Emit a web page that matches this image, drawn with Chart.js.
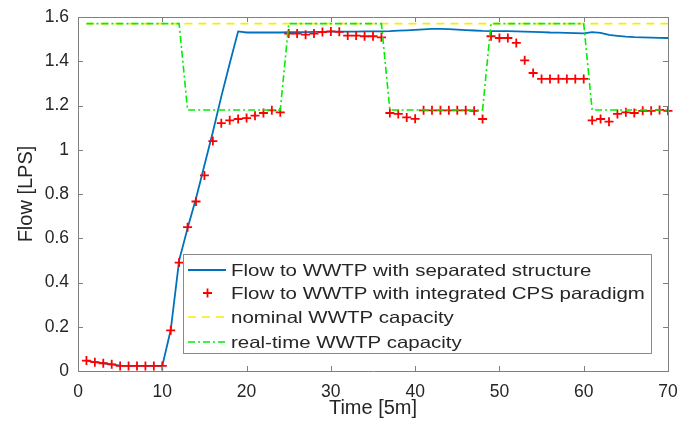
<!DOCTYPE html>
<html>
<head>
<meta charset="utf-8">
<script src="https://cdn.jsdelivr.net/npm/chart.js@4"></script>
<style>
  html, body { margin: 0; padding: 0; background: #fff; }
  #wrap { width: 679px; height: 427px; }
</style>
</head>
<body>
<div id="wrap"><canvas id="myChart" width="679" height="427"></canvas></div>
<script>
const time = [1, 2, 3, 4, 5, 6, 7, 8, 9, 10,
    11, 12, 13, 14, 15, 16, 17, 18, 19, 20,
    21, 22, 23, 24, 25, 26, 27, 28, 29, 30,
    31, 32, 33, 34, 35, 36, 37, 38, 39, 40,
    41, 42, 43, 44, 45, 46, 47, 48, 49, 50,
    51, 52, 53, 54, 55, 56, 57, 58, 59, 60,
    61, 62, 63, 64, 65, 66, 67, 68, 69, 70];

const separated = [0.047, 0.040, 0.035, 0.030, 0.024, 0.023, 0.023, 0.023, 0.023, 0.023,
    0.185, 0.50, 0.645, 0.78, 0.93, 1.08, 1.24, 1.39, 1.535, 1.530,
    1.530, 1.530, 1.530, 1.530, 1.531, 1.532, 1.532, 1.533, 1.533, 1.534,
    1.534, 1.534, 1.534, 1.535, 1.535, 1.535, 1.536, 1.538, 1.540, 1.542,
    1.544, 1.546, 1.546, 1.545, 1.543, 1.541, 1.539, 1.537, 1.536, 1.536,
    1.536, 1.535, 1.534, 1.533, 1.532, 1.530, 1.529, 1.528, 1.527, 1.526,
    1.532, 1.528, 1.519, 1.515, 1.511, 1.509, 1.508, 1.507, 1.506, 1.505];

const integrated = [0.047, 0.040, 0.035, 0.030, 0.023, 0.023, 0.023, 0.023, 0.023, 0.023,
    0.184, 0.49, 0.65, 0.766, 0.884, 1.039, 1.12, 1.133, 1.139, 1.143,
    1.154, 1.166, 1.178, 1.169, 1.525, 1.525, 1.52, 1.525, 1.532, 1.535,
    1.533, 1.516, 1.516, 1.513, 1.513, 1.508, 1.166, 1.162, 1.146, 1.14,
    1.178, 1.178, 1.178, 1.178, 1.178, 1.178, 1.176, 1.139, 1.513, 1.505,
    1.505, 1.483, 1.404, 1.347, 1.32, 1.32, 1.32, 1.32, 1.32, 1.32,
    1.133, 1.139, 1.127, 1.162, 1.169, 1.166, 1.176, 1.176, 1.18, 1.176];

const nominal = [1.57, 1.57, 1.57, 1.57, 1.57, 1.57, 1.57, 1.57, 1.57, 1.57,
    1.57, 1.57, 1.57, 1.57, 1.57, 1.57, 1.57, 1.57, 1.57, 1.57,
    1.57, 1.57, 1.57, 1.57, 1.57, 1.57, 1.57, 1.57, 1.57, 1.57,
    1.57, 1.57, 1.57, 1.57, 1.57, 1.57, 1.57, 1.57, 1.57, 1.57,
    1.57, 1.57, 1.57, 1.57, 1.57, 1.57, 1.57, 1.57, 1.57, 1.57,
    1.57, 1.57, 1.57, 1.57, 1.57, 1.57, 1.57, 1.57, 1.57, 1.57,
    1.57, 1.57, 1.57, 1.57, 1.57, 1.57, 1.57, 1.57, 1.57, 1.57];

const realtime = [1.57, 1.57, 1.57, 1.57, 1.57, 1.57, 1.57, 1.57, 1.57, 1.57,
    1.57, 1.57, 1.18, 1.18, 1.18, 1.18, 1.18, 1.18, 1.18, 1.18,
    1.18, 1.18, 1.18, 1.18, 1.57, 1.57, 1.57, 1.57, 1.57, 1.57,
    1.57, 1.57, 1.57, 1.57, 1.57, 1.57, 1.18, 1.18, 1.18, 1.18,
    1.18, 1.18, 1.18, 1.18, 1.18, 1.18, 1.18, 1.18, 1.57, 1.57,
    1.57, 1.57, 1.57, 1.57, 1.57, 1.57, 1.57, 1.57, 1.57, 1.57,
    1.18, 1.18, 1.18, 1.18, 1.18, 1.18, 1.18, 1.18, 1.18, 1.18];

const seriesLabels = [
    'Flow to WWTP with separated structure',
    'Flow to WWTP with integrated CPS paradigm',
    'nominal WWTP capacity',
    'real-time WWTP capacity'
];

const xTicks = [0, 10, 20, 30, 40, 50, 60, 70];
const yTicks = [0, 0.2, 0.4, 0.6, 0.8, 1, 1.2, 1.4, 1.6];

const FONT = "'Liberation Sans', Arial, Helvetica, sans-serif";
const TEXT = '#262626';
const AXIS = '#808080';

function pts(ys) {
    return time.map((t, i) => ({ x: t, y: ys[i] }));
}

// box, inward ticks and the legend, MATLAB style
const matlabFrame = {
    id: 'matlabFrame',
    afterDraw(chart) {
        const c = chart.ctx;
        const a = chart.chartArea;
        const xs = chart.scales.x, ys = chart.scales.y;
        c.save();
        c.strokeStyle = AXIS;
        c.lineWidth = 1;
        c.beginPath();
        c.moveTo(a.left + 0.5, a.top + 0.5);
        c.lineTo(a.right + 0.5, a.top + 0.5);
        c.lineTo(a.right + 0.5, a.bottom + 0.5);
        c.stroke();
        c.beginPath();
        xTicks.forEach(v => {
            const px = Math.round(xs.getPixelForValue(v)) + 0.5;
            c.moveTo(px, a.bottom); c.lineTo(px, a.bottom - 5);
            c.moveTo(px, a.top); c.lineTo(px, a.top + 5);
        });
        yTicks.forEach(v => {
            const py = Math.round(ys.getPixelForValue(v)) + 0.5;
            c.moveTo(a.left, py); c.lineTo(a.left + 5, py);
            c.moveTo(a.right, py); c.lineTo(a.right - 5, py);
        });
        c.stroke();

        // legend
        const bx = 183, by = 254, bw = 468, bh = 99;
        c.fillStyle = '#fff';
        c.fillRect(bx, by, bw, bh);
        c.strokeStyle = '#8a8a8a';
        c.strokeRect(bx + 0.5, by + 0.5, bw, bh);
        const rows = [270, 293, 317, 342];
        chart.data.datasets.forEach((ds, i) => {
            const y = rows[i];
            c.save();
            c.strokeStyle = ds.borderColor;
            c.lineWidth = ds.borderWidth;
            if (ds.showLine === false) {
                c.lineWidth = 1.8;
                c.beginPath();
                c.moveTo(203, y); c.lineTo(212, y);
                c.moveTo(207.5, y - 4.5); c.lineTo(207.5, y + 4.5);
                c.stroke();
            } else {
                c.setLineDash(ds.borderDash || []);
                c.beginPath();
                c.moveTo(188, y); c.lineTo(226, y);
                c.stroke();
            }
            c.restore();
            // the source text is a bit stretched sideways
            c.save();
            c.translate(231, y + 1);
            c.scale(1.24, 1);
            c.font = '16.5px ' + FONT;
            c.textBaseline = 'middle';
            c.fillStyle = TEXT;
            c.fillText(ds.label, 0, 0);
            c.restore();
        });
        c.restore();
    }
};

const ctx = document.getElementById('myChart').getContext('2d');
const myChart = new Chart(ctx, {
    type: 'scatter',
    data: {
        datasets: [{
            label: seriesLabels[0],
            data: pts(separated),
            showLine: true,
            borderColor: '#0072BD',
            borderWidth: 1.8,
            pointRadius: 0,
            order: 3
        }, {
            label: seriesLabels[1],
            data: pts(integrated),
            showLine: false,
            pointStyle: 'cross',
            pointRadius: 4.5,
            pointBorderWidth: 1.8,
            borderColor: '#ff0000',
            backgroundColor: '#ff0000',
            borderWidth: 1.8,
            clip: false,
            order: 2
        }, {
            label: seriesLabels[2],
            data: pts(nominal),
            showLine: true,
            borderColor: '#f5ee00',
            borderWidth: 1.6,
            borderDash: [8, 6],
            pointRadius: 0,
            order: 1
        }, {
            label: seriesLabels[3],
            data: pts(realtime),
            showLine: true,
            borderColor: '#00ee00',
            borderWidth: 1.6,
            borderDash: [7, 3, 2, 3],
            pointRadius: 0,
            order: 0
        }]
    },
    options: {
        responsive: false,
        animation: false,
        layout: {
            padding: { top: 17, right: 11, left: 0, bottom: 0 }
        },
        scales: {
            x: {
                type: 'linear',
                min: 0,
                max: 70,
                afterFit: s => {
                    s.height = 56;
                    s.paddingLeft = 0;
                    s.paddingRight = 0;
                },
                afterBuildTicks: s => { s.ticks = xTicks.map(v => ({ value: v })); },
                ticks: {
                    color: TEXT,
                    padding: 11,
                    font: { size: 17.5, family: FONT }
                },
                grid: { display: false, drawTicks: false },
                border: { display: true, color: AXIS, width: 1 },
                title: {
                    display: true,
                    text: 'Time [5m]',
                    color: TEXT,
                    padding: { top: 0, bottom: 7 },
                    font: { size: 20, family: FONT }
                }
            },
            y: {
                min: 0,
                max: 1.6,
                afterFit: s => {
                    s.width = 78;
                    s.paddingTop = 0;
                    s.paddingBottom = 0;
                },
                afterBuildTicks: s => { s.ticks = yTicks.map(v => ({ value: v })); },
                ticks: {
                    color: TEXT,
                    padding: 9,
                    font: { size: 17.5, family: FONT },
                    callback: v => String(+v.toFixed(1))
                },
                grid: { display: false, drawTicks: false },
                border: { display: true, color: AXIS, width: 1 },
                title: {
                    display: true,
                    text: 'Flow [LPS]',
                    color: TEXT,
                    padding: { top: 14, bottom: 0 },
                    font: { size: 20, family: FONT }
                }
            }
        },
        plugins: {
            legend: { display: false },
            tooltip: { enabled: false }
        }
    },
    plugins: [matlabFrame]
});
</script>
</body>
</html>
